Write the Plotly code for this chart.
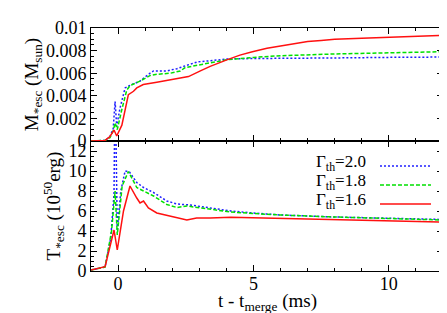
import plotly.graph_objects as go

# ---- data ----
t_blue_M = [-1.0, -0.48, -0.3, -0.18, -0.11, -0.05, 0.07, 0.26, 0.42, 0.81, 1.12, 1.31, 1.8, 2.17, 2.67, 2.93, 3.4, 4.04, 5.0, 6.0, 8.0, 10.0, 12.0]
M_blue = [0.0, 0.00005, 0.0004, 0.0011, 0.0035, 0.0013, 0.0029, 0.0047, 0.0049, 0.0053, 0.0059, 0.0062, 0.0062, 0.0064, 0.0068, 0.0070, 0.0071, 0.00726, 0.0073, 0.0073, 0.00735, 0.0074, 0.00743]

t_green_M = [-1.0, -0.48, -0.3, -0.18, -0.11, -0.03, 0.13, 0.32, 0.44, 0.81, 1.19, 1.43, 1.93, 2.3, 2.48, 2.93, 3.4, 4.04, 5.0, 6.0, 8.0, 10.0, 12.0]
M_green = [0.0, 0.00005, 0.0003, 0.0009, 0.0016, 0.0010, 0.0027, 0.0045, 0.0049, 0.0053, 0.0058, 0.0059, 0.0060, 0.0062, 0.0065, 0.0067, 0.0069, 0.0072, 0.0074, 0.00755, 0.0077, 0.0078, 0.0079]

t_red_M = [-1.0, -0.48, -0.3, -0.15, -0.05, 0.14, 0.38, 0.57, 0.69, 0.93, 1.43, 1.93, 2.3, 2.6, 3.04, 3.4, 4.04, 4.5, 4.96, 5.5, 6.0, 6.5, 7.0, 7.5, 8.0, 9.0, 10.0, 11.0, 12.0]
M_red = [0.0, 0.00005, 0.0004, 0.00097, 0.00044, 0.0014, 0.0041, 0.0044, 0.0047, 0.0050, 0.0052, 0.0054, 0.0056, 0.0057, 0.0062, 0.0066, 0.0072, 0.0076, 0.0079, 0.0082, 0.0084, 0.0086, 0.0088, 0.0089, 0.0090, 0.0091, 0.0092, 0.0093, 0.00935]

t_blue_T = [-1.0, -0.48, -0.27, -0.15, -0.11, -0.06, -0.03, 0.1, 0.26, 0.42, 0.69, 0.94, 1.31, 1.8, 2.17, 2.67, 2.93, 3.4, 4.16, 5.0, 6.0, 8.0, 10.0, 12.0]
T_blue = [0.1, 0.4, 3.3, 7.7, 20.0, 6.0, 4.0, 8.0, 10.0, 9.9, 8.85, 8.35, 7.85, 7.0, 6.7, 6.6, 6.5, 6.3, 6.0, 5.8, 5.6, 5.4, 5.25, 5.15]

t_green_T = [-1.0, -0.48, -0.24, -0.11, -0.03, 0.15, 0.38, 0.69, 0.94, 1.31, 1.8, 2.17, 2.54, 2.9, 3.4, 4.16, 5.0, 6.0, 8.0, 10.0, 12.0]
T_green = [0.1, 0.4, 4.0, 8.0, 3.6, 8.5, 9.95, 8.35, 8.0, 7.5, 6.65, 6.35, 6.5, 6.35, 6.15, 5.9, 5.75, 5.6, 5.4, 5.25, 5.1]

t_red_T = [-1.0, -0.48, -0.15, -0.03, 0.2, 0.44, 0.69, 0.81, 0.94, 1.12, 1.43, 1.93, 2.54, 2.9, 3.4, 4.16, 5.0, 6.0, 8.0, 10.0, 12.0]
T_red = [0.1, 0.43, 4.1, 2.1, 6.0, 8.5, 7.3, 6.8, 7.0, 6.3, 5.8, 5.5, 5.1, 5.3, 5.3, 5.38, 5.33, 5.25, 5.08, 5.0, 4.88]

legend_labels = ["Γ<sub>th</sub>=2.0", "Γ<sub>th</sub>=1.8", "Γ<sub>th</sub>=1.6"]
x_title = "t - t<sub>merge</sub> (ms)"
colors = ["#1f1fff", "#00e000", "#ff1010"]
dashes = ["2px,2px", "4px,2px", "solid"]

FONT = "Liberation Serif, Times New Roman, serif"

fig = go.Figure()
series = [
    (t_blue_M, M_blue, t_blue_T, T_blue),
    (t_green_M, M_green, t_green_T, T_green),
    (t_red_M, M_red, t_red_T, T_red),
]
for i in [0, 1, 2]:
    tm, m, tt, tv = series[i]
    fig.add_trace(go.Scatter(x=tm, y=m, mode="lines", xaxis="x2", yaxis="y2",
                             line=dict(color=colors[i], dash=dashes[i], width=1.5),
                             showlegend=False))
    fig.add_trace(go.Scatter(x=tt, y=tv, mode="lines", xaxis="x", yaxis="y",
                             line=dict(color=colors[i], dash=dashes[i], width=1.5),
                             showlegend=False))

TICKF = dict(family=FONT, size=18, color="black")
TITLEF = dict(family=FONT, size=19, color="black")
ax_common = dict(showline=True, linecolor="black", linewidth=1, mirror="allticks",
                 ticks="inside", tickcolor="black", ticklen=6, showgrid=False,
                 zeroline=False, tickfont=TICKF, automargin=False)

split = 130 / 243
fig.update_layout(
    width=447, height=313, autosize=False,
    margin=dict(l=83, r=12, t=20, b=50, autoexpand=False),
    plot_bgcolor="white", paper_bgcolor="white",
    font=dict(family=FONT, size=18, color="black"),
    xaxis=dict(range=[-1, 12], dtick=5, tick0=0, anchor="y", domain=[0, 1],
               ticklabelstandoff=-4,
               minor=dict(dtick=1, ticks="inside", ticklen=3, tickcolor="black"),
               **ax_common),
    xaxis2=dict(range=[-1, 12], dtick=5, tick0=0, anchor="y2", domain=[0, 1],
                showticklabels=False,
                minor=dict(dtick=1, ticks="inside", ticklen=3, tickcolor="black"),
                **ax_common),
    yaxis=dict(domain=[0, split], range=[0, 13], dtick=2, anchor="x",
               minor=dict(dtick=0.5, ticks="inside", ticklen=3, tickcolor="black"),
               title=dict(text="T<sub>*esc</sub> (10<sup>50</sup>erg)", standoff=2, font=TITLEF),
               **ax_common),
    yaxis2=dict(domain=[split, 1], range=[0, 0.01], dtick=0.002, anchor="x2",
                minor=dict(dtick=0.0005, ticks="inside", ticklen=3, tickcolor="black"),
                title=dict(text="M<sub>*esc</sub> (M<sub>sun</sub>)", standoff=2, font=TITLEF),
                **ax_common),
)

# x-axis title placed just below the tick labels
fig.add_annotation(x=0.5, y=-0.128, xref="paper", yref="paper", text=x_title,
                   showarrow=False, xanchor="center", yanchor="middle", font=TITLEF)

# manual gnuplot-style legend (text right-aligned, sample line to the right)
leg_y = [0.444, 0.366, 0.288]
for i in range(3):
    fig.add_annotation(x=0.787, y=leg_y[i], xref="paper", yref="paper",
                       text=legend_labels[i], showarrow=False, xanchor="right",
                       yanchor="middle", font=dict(family=FONT, size=17, color="black"))
    fig.add_shape(type="line", xref="paper", yref="paper",
                  x0=0.821, x1=0.966, y0=leg_y[i] - 0.012, y1=leg_y[i] - 0.012,
                  line=dict(color=colors[i], dash=dashes[i], width=1.5))

fig.write_html("out.html")
